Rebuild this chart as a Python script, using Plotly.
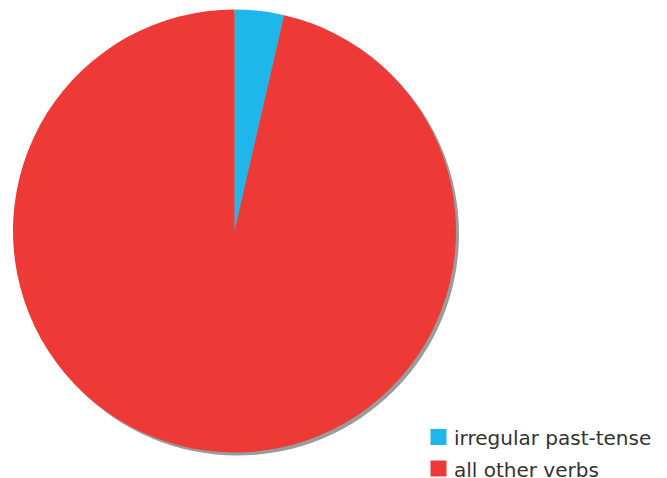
import plotly.graph_objects as go

labels = ["irregular past-tense", "all other verbs"]
values = [3.6, 96.4]
colors = ["#1fb6e9", "#ee3a36"]

W, H = 667, 478
# pie geometry in pixels (top-left origin)
cx, cy, r = 234.5, 231.0, 221.5
shadow_dx, shadow_dy = 3, 3

def px(x):
    return x / W

def py(y):
    return 1 - y / H

fig = go.Figure()
fig.add_trace(go.Pie(
    labels=labels, values=values,
    marker=dict(colors=colors, line=dict(width=0)),
    sort=False, direction="clockwise", rotation=0,
    textinfo="none", hoverinfo="label+percent",
    showlegend=False,
    domain=dict(x=[px(cx - r), px(cx + r)], y=[py(cy + r), py(cy - r)]),
))

shapes = [dict(
    type="circle", xref="paper", yref="paper", layer="below",
    x0=px(cx - r + shadow_dx), x1=px(cx + r + shadow_dx),
    y0=py(cy + r + shadow_dy), y1=py(cy - r + shadow_dy),
    fillcolor="#9b9b9b", line=dict(width=0),
)]

annotations = []
leg_x, leg_y0, leg_step, sq = 430.5, 437.0, 31.5, 16
for i, (lab, col) in enumerate(zip(labels, colors)):
    yc = leg_y0 + i * leg_step
    shapes.append(dict(
        type="rect", xref="paper", yref="paper",
        x0=px(leg_x), x1=px(leg_x + sq),
        y0=py(yc + sq / 2), y1=py(yc - sq / 2),
        fillcolor=col, line=dict(width=0),
    ))
    annotations.append(dict(
        text=lab, xref="paper", yref="paper",
        x=px(leg_x + sq + 5), y=py(yc + 1), xanchor="left", yanchor="middle",
        showarrow=False, font=dict(family="DejaVu Sans", size=20, color="#333333"),
    ))

fig.update_layout(
    width=W, height=H,
    margin=dict(l=0, r=0, t=0, b=0),
    paper_bgcolor="white", plot_bgcolor="white",
    shapes=shapes, annotations=annotations,
)

fig.write_html(
    "out.html",
    config={"displayModeBar": False},
    post_script="document.body.style.margin='0';document.body.style.overflow='hidden';",
)
